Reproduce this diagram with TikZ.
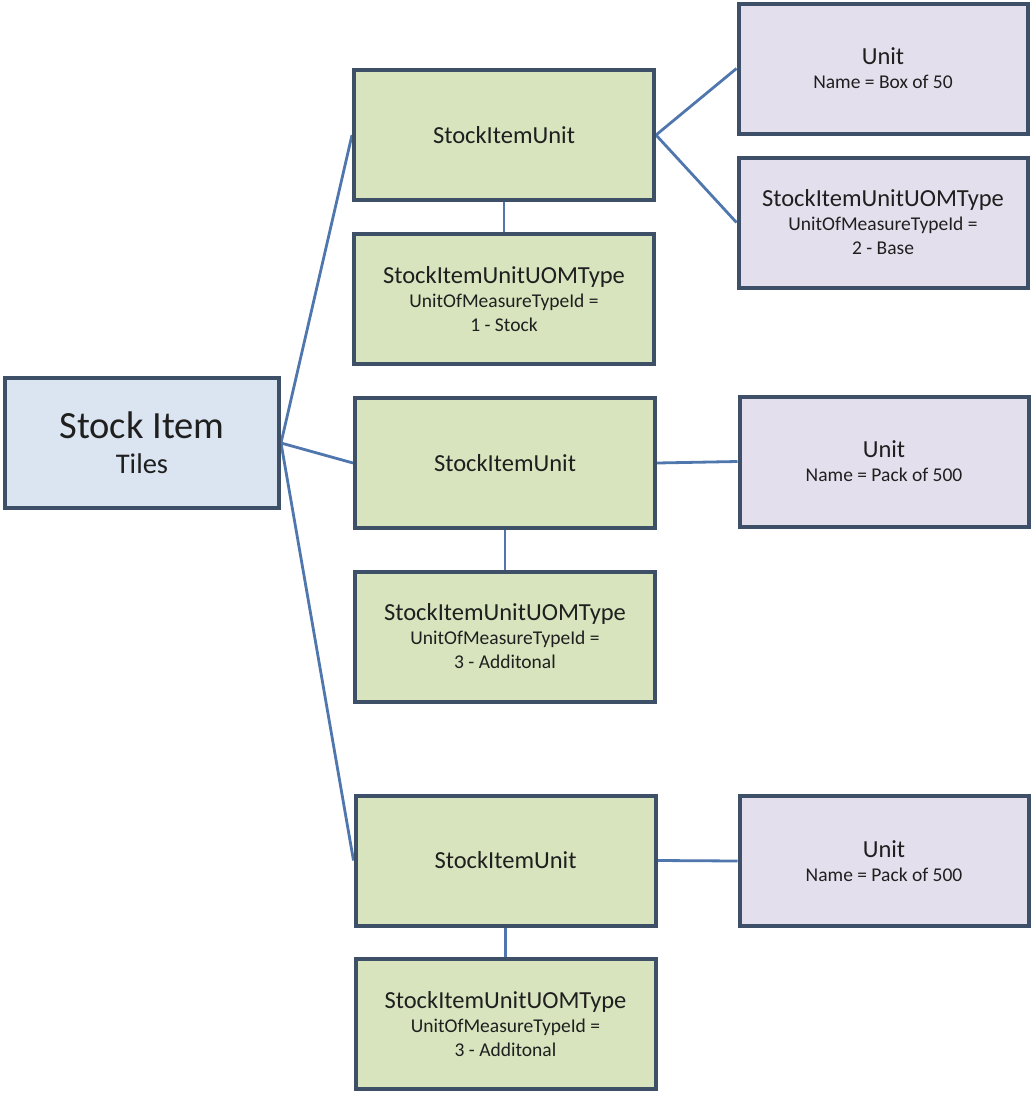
\documentclass[tikz,border=0pt]{standalone}
\usepackage{fontspec}
\setmainfont{Carlito}
\usetikzlibrary{backgrounds}
\definecolor{bordercol}{HTML}{3D5068}
\definecolor{linecol}{HTML}{4F77AD}
\definecolor{itemfill}{HTML}{DBE5F1}
\definecolor{greenfill}{HTML}{D7E4BD}
\definecolor{purplefill}{HTML}{E4DFEC}
\definecolor{textcol}{HTML}{1F1F1F}
\newcommand{\ttl}[1]{{\fontsize{24.5}{24}\selectfont #1}}
\newcommand{\sml}[1]{{\fontsize{19.5}{24}\selectfont #1}}
\begin{document}
\begin{tikzpicture}[x=1pt,y=-1pt,
  box/.style={draw=bordercol, line width=4pt, inner sep=0pt, align=center, text=textcol, minimum height=130pt, font=\fontsize{19.5}{24}\selectfont},
  itembox/.style={box, fill=itemfill, minimum width=274pt, font=\fontsize{28}{35}\selectfont},
  greenbox/.style={box, fill=greenfill, minimum width=300pt},
  purplebox/.style={box, fill=purplefill, minimum width=289pt},
  conn/.style={draw=linecol, line width=2.8pt}]
\useasboundingbox (0,0) rectangle (1031,1093);
\node[itembox] (item) at (142,443) {{\fontsize{38.5}{35}\selectfont Stock Item}\\{\fontsize{28.5}{35}\selectfont Tiles}};
\node[greenbox] (u1) at (504,135) {\ttl{StockItemUnit}};
\node[greenbox] (t1) at (504,299) {\ttl{StockItemUnitUOMType}\\\sml{UnitOfMeasureTypeId =}\\\sml{1 - Stock}};
\node[greenbox] (u2) at (505,463) {\ttl{StockItemUnit}};
\node[greenbox] (t2) at (505,636.5) {\ttl{StockItemUnitUOMType}\\\sml{UnitOfMeasureTypeId =}\\\sml{3 - Additonal}};
\node[greenbox] (u3) at (505.5,860.5) {\ttl{StockItemUnit}};
\node[greenbox] (t3) at (505.5,1024) {\ttl{StockItemUnitUOMType}\\\sml{UnitOfMeasureTypeId =}\\\sml{3 - Additonal}};
\node[purplebox] (n1) at (883,68.5) {\ttl{Unit}\\\sml{Name = Box of 50}};
\node[purplebox] (p1) at (883,222.5) {\ttl{StockItemUnitUOMType}\\\sml{UnitOfMeasureTypeId =}\\\sml{2 - Base}};
\node[purplebox] (n2) at (884,461.5) {\ttl{Unit}\\\sml{Name = Pack of 500}};
\node[purplebox] (n3) at (884,861) {\ttl{Unit}\\\sml{Name = Pack of 500}};
\begin{scope}[on background layer]
\path[conn] (item.east) -- (u1.west);
\path[conn] (item.east) -- (u2.west);
\path[conn] (item.east) -- (u3.west);
\path[conn] (u1.east) -- (n1.west);
\path[conn] (u1.east) -- (p1.west);
\path[conn] (u2.east) -- (n2.west);
\path[conn] (u3.east) -- (n3.west);
\path[conn] (u1.south) -- (t1.north);
\path[conn] (u2.south) -- (t2.north);
\path[conn] (u3.south) -- (t3.north);
\end{scope}
\end{tikzpicture}
\end{document}
